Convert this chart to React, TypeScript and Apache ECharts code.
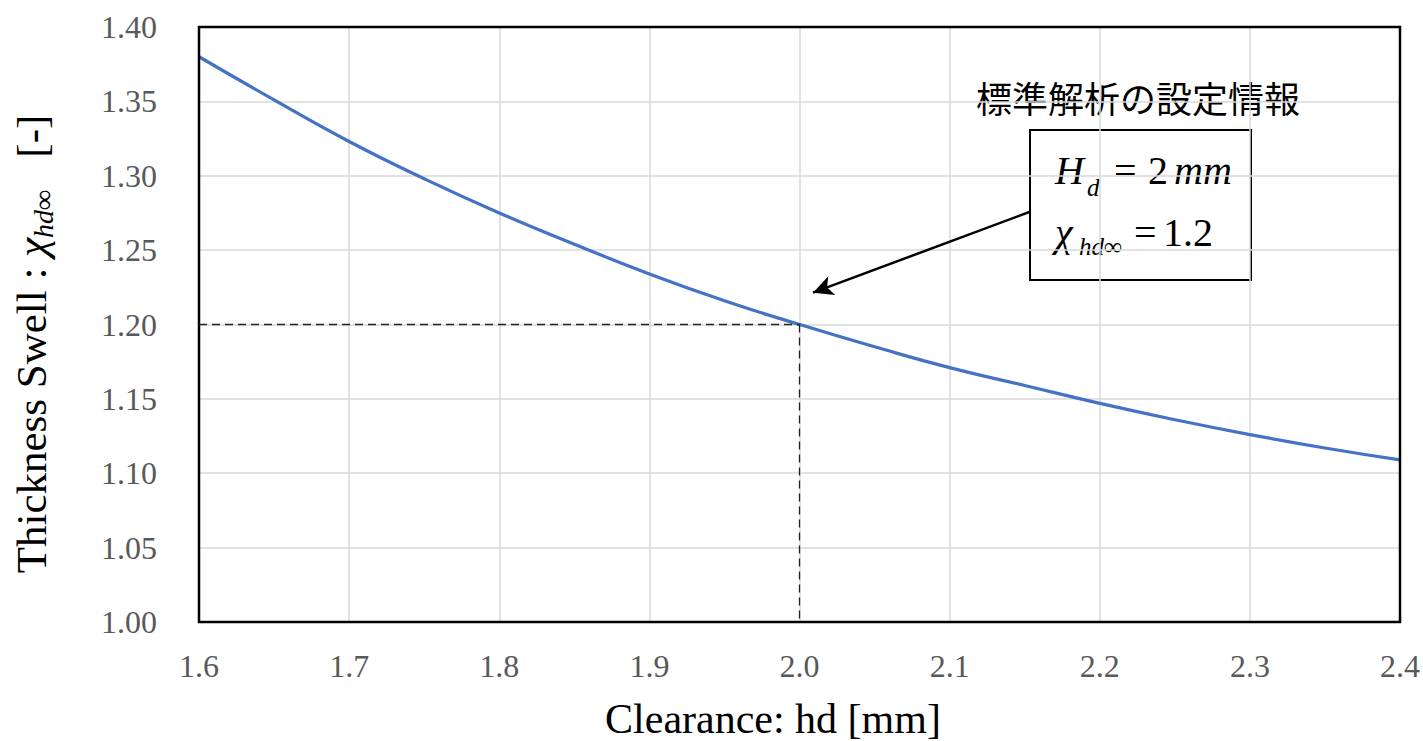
import React, { useEffect, useRef } from "react";
import * as echarts from "echarts";

// Clearance hd [mm] and the resulting thickness swell χ_hd∞ [-]
const clearance = [1.6, 1.65, 1.7, 1.75, 1.8, 1.85, 1.9, 1.95, 2.0, 2.05, 2.1, 2.15, 2.2, 2.25, 2.3, 2.35, 2.4];
const swell = [1.38, 1.351, 1.323, 1.298, 1.275, 1.254, 1.234, 1.216, 1.2, 1.185, 1.171, 1.159, 1.147, 1.136, 1.126, 1.117, 1.109];

// Standard analysis setting (Hd = 2 mm -> χ = 1.2)
const refClearance = 2.0;
const refSwell = 1.2;

// Callout arrow: from the info box down to the reference point
const arrowFrom = [2.153, 1.2756];
const arrowTo = [2.009, 1.2214];

const xMin = 1.6;
const xMax = 2.4;
const yMin = 1.0;
const yMax = 1.4;

const SERIF = "'Liberation Serif', 'Times New Roman', serif";
const CJK = "'Noto Sans CJK JP', sans-serif";

export default function App() {
  const ref = useRef<HTMLDivElement>(null);

  useEffect(() => {
    if (!ref.current) return;
    const chart = echarts.init(ref.current, null, { renderer: "svg" });

    const main = 40;
    const sub = 25;
    const mid = (baseline: number, size: number) => baseline - 0.34 * size;

    const formulaText = (
      text: string,
      x: number,
      baseline: number,
      size: number,
      italic: boolean
    ) => ({
      type: "text",
      x,
      y: mid(baseline, size),
      silent: true,
      style: {
        text,
        fontFamily: SERIF,
        fontSize: size,
        fontStyle: italic ? "italic" : "normal",
        fill: "#000",
        align: "left",
        verticalAlign: "middle",
      },
    });

    const gridSplit = {
      show: true,
      showMinLine: false,
      showMaxLine: false,
      lineStyle: { color: "#d9d9d9", width: 1.5 },
    };

    chart.setOption({
      animation: false,
      backgroundColor: "#fff",
      grid: {
        left: 199,
        right: 22,
        top: 27,
        bottom: 119,
        show: true,
        borderColor: "#000",
        borderWidth: 2.5,
        backgroundColor: "transparent",
        z: 5,
      },
      xAxis: {
        type: "value",
        min: xMin,
        max: xMax,
        interval: 0.1,
        axisLine: { show: false },
        axisTick: { show: false },
        splitLine: gridSplit,
        axisLabel: {
          color: "#595959",
          fontFamily: SERIF,
          fontSize: 32,
          margin: 28,
          formatter: (v: number) => v.toFixed(1),
        },
      },
      yAxis: {
        type: "value",
        min: yMin,
        max: yMax,
        interval: 0.05,
        axisLine: { show: false },
        axisTick: { show: false },
        splitLine: gridSplit,
        axisLabel: {
          color: "#595959",
          fontFamily: SERIF,
          fontSize: 32,
          margin: 42,
          formatter: (v: number) => v.toFixed(2),
        },
      },
      series: [
        {
          type: "line",
          data: clearance.map((c, i) => [c, swell[i]]),
          smooth: true,
          showSymbol: false,
          lineStyle: { color: "#4472C4", width: 3.2 },
          silent: true,
          z: 3,
          markLine: {
            silent: true,
            symbol: "none",
            label: { show: false },
            emphasis: { disabled: true },
            data: [
              [
                { coord: [xMin, refSwell], lineStyle: { color: "#222", width: 1.3, type: [8, 5] } },
                { coord: [refClearance, refSwell] },
              ],
              [
                { coord: [refClearance, refSwell], lineStyle: { color: "#222", width: 1.3, type: [8, 5] } },
                { coord: [refClearance, yMin] },
              ],
              [
                {
                  coord: arrowFrom,
                  symbol: "none",
                  lineStyle: { color: "#000", width: 2.5, type: "solid" },
                },
                { coord: arrowTo, symbol: "arrow", symbolSize: [15, 20] },
              ],
            ],
          },
        },
      ],
      graphic: [
        // x-axis title
        {
          type: "text",
          x: 773,
          y: 719,
          silent: true,
          style: {
            text: "Clearance: hd [mm]",
            fontFamily: SERIF,
            fontSize: 42,
            fill: "#000",
            align: "center",
            verticalAlign: "middle",
          },
        },
        // y-axis title (rotated)
        {
          type: "text",
          x: 31,
          y: 344,
          rotation: Math.PI / 2,
          silent: true,
          style: {
            text: "{a|Thickness Swell : }{b|χ}{c|hd∞}{a|   [-]}",
            align: "center",
            verticalAlign: "middle",
            fill: "#000",
            rich: {
              a: { fontFamily: SERIF, fontSize: 43, lineHeight: 52, fill: "#000" },
              b: { fontFamily: SERIF, fontSize: 43, fontStyle: "italic", lineHeight: 52, fill: "#000" },
              c: {
                fontFamily: SERIF,
                fontSize: 28,
                fontStyle: "italic",
                verticalAlign: "bottom",
                lineHeight: 28,
                fill: "#000",
              },
            },
          },
        },
        // info heading
        {
          type: "text",
          x: 1138,
          y: 97,
          silent: true,
          style: {
            text: "標準解析の設定情報",
            fontFamily: CJK,
            fontSize: 36,
            fill: "#000",
            align: "center",
            verticalAlign: "middle",
          },
        },
        // info box
        {
          type: "rect",
          shape: { x: 1030, y: 130, width: 221, height: 150 },
          silent: true,
          style: { fill: "none", stroke: "#000", lineWidth: 2 },
        },
        formulaText("H", 1055, 184, main, true),
        formulaText("d", 1087, 196, sub, true),
        formulaText("=", 1114, 184, main, false),
        formulaText("2", 1148, 184, main, false),
        formulaText("mm", 1174, 184, main, true),
        formulaText("χ", 1055, 246, main, true),
        formulaText("hd∞", 1079, 255, sub, true),
        formulaText("=", 1134, 246, main, false),
        formulaText("1.2", 1163, 246, main, false),
      ],
    });

    return () => chart.dispose();
  }, []);

  return (
    <div
      ref={ref}
      style={{ position: "absolute", left: 0, top: 0, width: 1423, height: 741 }}
    />
  );
}
